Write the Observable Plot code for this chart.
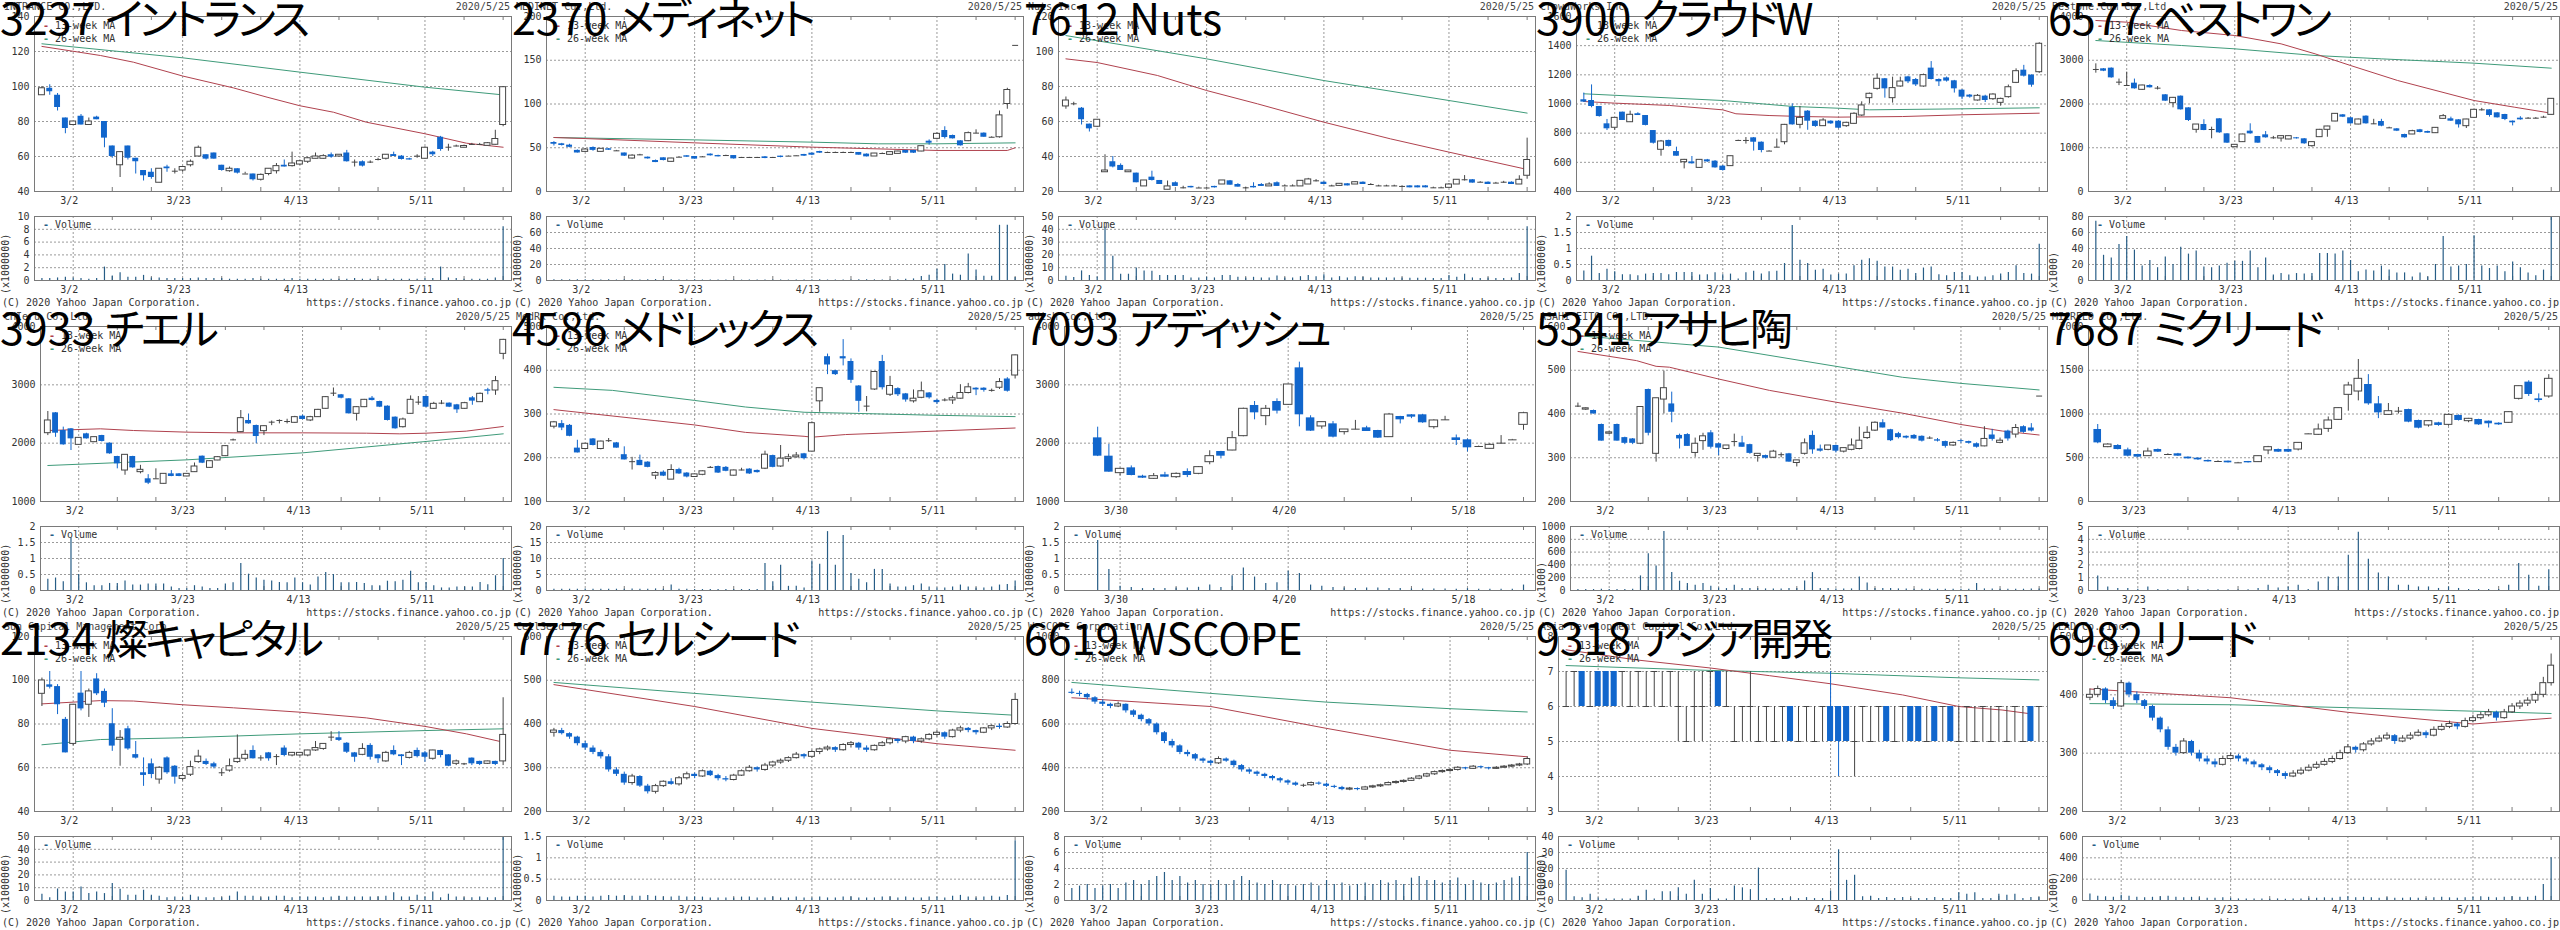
<!DOCTYPE html>
<html><head><meta charset="utf-8">
<script src="https://cdn.jsdelivr.net/npm/d3@7"></script>
<script src="https://cdn.jsdelivr.net/npm/@observablehq/plot@0.6"></script>
<style>
html,body{margin:0;padding:0;background:#fff;}
#root{position:relative;width:2560px;height:930px;overflow:hidden;background:#fff;}
.panel{position:absolute;width:512px;height:310px;overflow:hidden;}
.panel svg{position:absolute;left:0;}
.t{position:absolute;font-family:"DejaVu Sans Mono",monospace;font-size:10px;line-height:12px;color:#333;white-space:nowrap;}
.title{position:absolute;left:0;top:-5px;font-family:"Noto Sans CJK JP",sans-serif;font-size:43px;line-height:43px;color:#000;white-space:nowrap;font-feature-settings:"palt";}
</style></head>
<body><div id="root"></div>
<script>
// ---------- DATA ----------
const titles = ["3237 イントランス","2370 メディネット","7612 Nuts","3900 クラウドW","6577 ベストワン",
"3933 チエル","4586 メドレックス","7093 アディッシュ","5341 アサヒ陶","7687 ミクリード",
"2134 燦キャピタル","7776 セルシード","6619 WSCOPE","9318 アジア開発","6982 リード"];
const englishNames = ["INTRANCE CO.,LTD.","MEDINET Co.,Ltd.","Nuts Inc.","CrowdWorks,Inc.","Bestone.Com Co.,Ltd",
"CHIeru Co.,Ltd.","MedRx Co.,Ltd.","adish Co.,Ltd.","ASAHI EITO CO.,LTD.","MICREED Co.,Ltd.",
"Sun Capital Management Corp.","CellSeed Inc.","W-SCOPE Corporation","Asia Development Capital Co.,Ltd.","LEAD Co.,Inc."];
const chartDate = "2020/5/25";
const copyrightText = "(C) 2020 Yahoo Japan Corporation.";
const urlText = "https://stocks.finance.yahoo.co.jp";

const stdLabels = {4:"3/2",18:"3/23",33:"4/13",49:"5/11"};
const stdMinor = [9,14,23,28,38,43,54,59];
const adishLabels = {23:"3/30",38:"4/20",54:"5/18"};
const adishMinor = [28,33,43,49,59];
const micreedLabels = {18:"3/23",33:"4/13",49:"5/11"};
const micreedMinor = [23,28,38,43,54,59];

const ohlc_3237 = [
[95,100,95,99],[99,101,95,97],[95,96,86,88],[82,82,73,76],[78,80,78,80],[83,84,78,78],[78,82,78,80],[82.5,83,81,81],[80,80,65,70.5],[66,66,59,60],
[55,62.5,48,62.5],[66,66,58,59],[59,59,50,57],[52,52,46,49],[51,53,47,48],[45,53,45,53],[54,55,51,53],[51.6,53,50,51.6],[52,54,51,54],[55,58,54,57],
[60,66,60,65],[61,61,58,58.5],[62,62,58.5,58.5],[55,55,51.6,52],[51.6,54,51,53],[53,53,50,50.5],[50,51,50,50],[50,50,46,46.7],[46.7,50,46,49.5],[50,53,49,53],
[51.6,56,50,54.5],[55,58,54,54],[54.5,62.5,54,56],[55.4,58,55,57.3],[57,59.5,56,59],[58.7,62,58.7,60],[58.7,61,58.5,60.2],[61,62,59,59.6],[60,61,60,61],[62,63.5,56.8,57],
[56.8,58,54,56.8],[57,57.5,54,54.5],[56.8,57.5,56,56.8],[58.3,59,57.5,58.3],[58.7,61,58,61],[61.1,62.5,60,60],[60.2,60.5,58,58.3],[58.7,59,58,58],[60.2,61,59,60.2],[58.7,65.5,58.5,65],
[62.5,63,60,61],[71,71.5,63,64],[65.3,67,63,65.3],[66,66.5,65.5,66],[65,66.5,65,66],[66.9,67.5,66.5,66.9],[66.9,67.5,66.5,66.9],[66.1,68,66,67.6],[66.7,75,66.5,70],[78,100,77,99.6]];
const vol_3237 = [0.3,0.3,0.4,0.5,0.4,0.3,0.2,0.3,2.1,0.7,1.2,0.5,0.5,0.8,0.4,0.4,0.3,0.3,0.3,0.3,0.4,0.3,0.3,0.3,0.2,0.2,0.2,0.3,0.2,0.2,0.2,0.2,0.3,0.2,0.2,0.2,0.2,0.2,0.2,0.2,0.3,0.2,0.2,0.2,0.2,0.2,0.2,0.2,0.2,0.3,0.3,2.1,0.4,0.3,0.2,0.2,0.2,0.2,0.4,8.4];
const ma13_3237 = [[0,122.9],[7.5,117.7],[11.7,113.9],[18,106],[24.5,99.2],[28.8,93.9],[33,89],[37.3,85.3],[41.5,79.6],[49,73],[54.3,67.6],[59,65.3]];
const ma26_3237 = [[0,124.4],[18,116.4],[33,108.2],[49,99.6],[59,95.2]];

const ohlc_2370 = [
[56,57,52,54],[54.5,55,52,52.6],[53,54,50,50.5],[47,47.5,44,44],[45.3,49,45,48],[50.3,51,46,47],[45.3,49,45,48.8],[48.8,49,47,47.2],[46.5,47,46,46.5],[44,44,40,40.4],
[37.7,42,37,41],[41.9,42.5,41,41.9],[39.2,39.5,37,37.3],[35.4,36,33,33.1],[38.5,38.5,35,35.4],[33.9,38,33.5,37.7],[39.2,40,39,39.2],[40.8,41,39,39.2],[40,40,37,37],[39.6,40,39,39.6],
[42.7,43,40.5,40.8],[41.1,41.5,39.5,39.6],[41.1,41.5,40.5,41.1],[41.1,41.1,37,37.3],[38.9,39,38,38.9],[38.9,39,38,38.9],[38.9,39,38,38.9],[39.6,40,37.5,37.7],[38.9,39,38,38.9],[40.4,40.5,38.5,38.9],
[40.4,40.5,40,40.4],[40.8,41,40.5,40.8],[42.3,42.5,40,40.4],[43.8,44,41,41.5],[45.7,46,43.5,43.8],[44.6,45,44,44.6],[44.6,45,44,44.6],[44.6,45,44,44.6],[44.6,45,44,44.6],[44.6,44.6,41.5,41.5],
[42.7,43,39.5,39.6],[40,43.5,40,43.4],[43.4,44,43,43.4],[41.9,45,41.5,45],[43,46,43,45.7],[46.9,47,43.5,43.8],[46.9,47,43.5,43.8],[45.7,52,45.5,51.8],[57.5,59,53,55.2],[60.2,67,59,65.9],
[69.7,74,60,61.7],[64,64.5,60,60.2],[57.9,58,52,52.2],[57.5,68,57,66.7],[66.7,70.5,66,66.7],[66.7,67,62,62],[62,62.5,61.5,62],[62,92,61,87],[100,118,94,116],[167,167,167,167]];
const vol_2370 = [1,0.8,0.8,1,0.8,0.8,0.6,0.8,0.6,0.8,0.8,0.6,0.8,1.2,0.8,0.8,0.6,0.6,0.8,0.6,0.6,0.6,0.6,0.6,0.5,0.5,0.5,0.5,0.5,0.5,0.5,0.5,0.6,0.6,0.8,0.6,0.5,0.5,0.5,0.8,1,0.8,0.6,0.6,1,1.5,2,5,6.6,14,20,8,6.6,33,13,5.4,5.4,69,69,3.7];
const ma13_2370 = [[0,61.7],[4,60.5],[18,55.6],[33,50.7],[49,46.9],[58,46.9],[59,49.9]];
const ma26_2370 = [[0,61.7],[18,59],[33,56.4],[41.5,54.5],[49,54.5],[59,55.6]];

const ohlc_7612 = [
[68.6,74,67,72],[70.1,71,69,70.1],[67.6,68,58,61],[58.5,58.5,54,55.8],[57,61,56.5,61],[31,41,31,32],[37,40,33.5,34],[34.9,35.8,32,32],[31,32,30.9,32],[30.5,30.5,25,25],
[22.9,26.3,22.9,26.3],[28.2,31.6,26,26.3],[26.3,26.3,24,24],[21,26,21,22.9],[25,25.5,22.9,22.9],[22.1,23,21.5,22.1],[22.9,23,22,22.1],[22,22.5,21.8,22],[22,22.5,21.8,22],[22.9,23,22,22.1],
[24,26.3,24,26.3],[26.1,26.3,23.6,23.6],[24,24.5,22.5,22.5],[22.1,22.5,21.5,22.1],[22.9,25,22,22.1],[24,24.5,22.9,22.9],[22.9,25,22.9,24],[25,25.5,22.9,22.9],[23.2,23.8,22.8,23.2],[23.2,23.8,22.8,23.2],
[22.9,26.1,22.9,26.1],[24,27.5,24,26.9],[26.1,26.8,25.5,26.1],[25.3,25.5,24,24],[23.2,23.6,22.8,23.2],[23.2,24.4,23.2,24.4],[24.4,24.5,23.2,23.2],[24,25.5,24,25.3],[25.3,25.5,24,24],[24,24.5,23.5,24],
[23.2,23.6,22.8,23.2],[23.2,23.6,22.8,23.2],[23.2,23.6,22.8,23.2],[22.9,23.3,22.5,22.9],[23.2,23.3,22.1,22.1],[23.2,23.3,22.1,22.1],[23.2,23.3,22.1,22.1],[22.1,22.5,21.8,22.1],[22.1,22.5,21.8,22.1],[22.1,24.5,22,24],
[24,26.7,24,26.7],[26.7,29.1,26,26.7],[26.7,26.8,24.8,24.8],[25.3,25.6,25,25.3],[25.3,25.5,24,24],[24.8,25.2,24.5,24.8],[25.3,25.8,24.8,25.3],[25.3,25.5,24,24],[24,29,24,26.7],[29,50.5,27,38]];
const vol_7612 = [3.4,2.3,7.5,3.9,2.8,41.7,18.9,4.9,4.9,9.8,7.5,7.3,3.9,3.9,3.9,3.9,2,2,2.5,2,3.9,3.9,2.5,2,2.5,2,2,3.5,2,2,3,3.9,3,4.5,2,3,2,3,2.5,2,2,2,2,2,1.8,1.8,1.8,1.5,1.5,3.9,2.5,4.9,2,1.5,2,1.5,1.5,2,5.4,42];
const ma13_7612 = [[0,95.8],[4,93.7],[11.7,86.3],[18,77.7],[24.5,70.1],[33,59.6],[41.5,50.1],[49,42.5],[59,32.6]];
const ma26_7612 = [[0,109.1],[18,95.8],[33,83.4],[49,72],[59,64.8]];

const ohlc_3900 = [
[1029,1075,1010,1013],[1024,1131,974,983],[983,983,910,914],[864,894,818,830],[837,905,820,905],[944,944,887,887],[875,951,875,926],[933,940,921,921],[921,921,850,853],[818,818,725,731],
[686,750,642,743],[750,752,705,709],[674,704,642,642],[601,620,555,617],[603,640,588,590],[562,617,560,617],[617,620,600,603],[608,612,560,562],[574,578,540,544],[574,642,572,642],
[750,752,748,750],[750,770,725,750],[768,770,677,738],[738,740,665,681],[677,680,675,677],[704,760,700,704],[738,860,720,857],[978,1001,855,857],[857,983,830,905],[951,955,820,882],
[882,885,840,846],[848,900,846,887],[882,885,860,864],[882,885,830,834],[848,875,840,871],[864,940,860,933],[921,1015,915,990],[1040,1075,1001,1070],[1104,1207,1095,1173],[1173,1175,1040,1104],
[1040,1184,1006,1109],[1120,1184,1115,1154],[1186,1190,1140,1152],[1168,1175,1120,1131],[1120,1205,1115,1198],[1246,1291,1165,1168],[1168,1172,1120,1152],[1179,1185,1150,1157],[1159,1162,1075,1104],[1095,1098,1030,1047],
[1061,1065,1040,1047],[1024,1065,1020,1056],[1054,1060,1010,1024],[1033,1070,1025,1065],[1008,1040,985,1035],[1047,1130,1040,1115],[1145,1241,1140,1225],[1232,1265,1185,1191],[1198,1200,1115,1129],[1218,1420,1210,1413]];
const vol_3900 = [0.30,0.76,0.22,0.35,0.27,0.18,0.18,0.15,0.2,0.22,0.22,0.18,0.25,0.25,0.25,0.17,0.18,0.24,0.18,0.2,0.05,0.24,0.29,0.2,0.27,0.29,0.53,1.72,0.63,0.53,0.32,0.35,0.17,0.2,0.2,0.46,0.63,0.68,0.6,0.42,0.42,0.32,0.35,0.22,0.39,0.42,0.18,0.15,0.25,0.25,0.15,0.11,0.11,0.15,0.2,0.25,0.46,0.22,0.2,1.13];
const ma13_3900 = [[0,1017],[4,1006],[11.1,990],[18,960],[19.7,933],[24,921],[28.4,914],[33,910],[41.3,914],[49,926],[59,937]];
const ma26_3900 = [[0,1070],[18,1024],[27.1,983],[33,971],[37,960],[49,967],[59,974]];

const ohlc_6577 = [
[2789,2918,2705,2789],[2804,2810,2740,2750],[2819,2825,2590,2598],[2499,2570,2420,2499],[2423,2728,2400,2423],[2476,2570,2340,2347],[2324,2430,2310,2423],[2423,2440,2365,2370],[2362,2400,2320,2362],[2210,2215,2060,2065],
[2019,2150,1912,2141],[2179,2185,1860,1867],[1912,1915,1600,1623],[1410,1531,1333,1531],[1531,1640,1390,1394],[1417,1470,1204,1417],[1661,1665,1330,1341],[1318,1320,1100,1105],[1013,1067,1000,1067],[1128,1310,1120,1303],
[1379,1547,1310,1318],[1257,1260,1100,1105],[1295,1370,1220,1227],[1227,1260,1195,1227],[1211,1270,1130,1265],[1189,1270,1185,1265],[1227,1235,1200,1204],[1204,1210,1080,1090],[1036,1135,1013,1128],[1242,1420,1235,1410],
[1410,1490,1240,1486],[1600,1780,1595,1775],[1752,1760,1690,1699],[1684,1690,1540,1547],[1531,1655,1525,1646],[1722,1730,1540,1547],[1547,1650,1530,1547],[1600,1650,1480,1493],[1455,1470,1440,1455],[1432,1440,1370,1379],
[1303,1310,1220,1227],[1303,1400,1300,1379],[1410,1420,1340,1349],[1371,1380,1330,1333],[1333,1460,1330,1455],[1661,1760,1655,1722],[1661,1700,1600,1608],[1638,1645,1450,1524],[1493,1650,1440,1646],[1684,1870,1680,1867],
[1867,1900,1840,1867],[1867,1870,1700,1737],[1798,1800,1680,1684],[1760,1765,1620,1646],[1608,1612,1500,1570],[1676,1710,1630,1638],[1676,1690,1660,1676],[1676,1690,1660,1676],[1699,1720,1680,1699],[1752,2125,1745,2118]];
const vol_6577 = [74,31.5,28,45,55,38,18,25,16,29.5,20,41.5,33,37,17,16,18,21.5,24,24,37,16,28,7,8.7,7,8.7,8,8.7,33.6,33.6,33,37,25,11,13,12,18,13,9.5,9.5,4.5,9.5,4.5,20,55,17,18,20,56,18,15,18,11,23,16,9.5,6,13,80];
const ma13_6577 = [[0,3909],[4,3870],[11.1,3680],[18,3566],[24,3375],[28.4,3147],[33,2880],[39.1,2537],[49,2080],[54.2,1928],[59,1790]];
const ma26_6577 = [[0,3451],[11.1,3337],[18,3261],[28.4,3109],[37,3032],[49,2933],[59,2819]];

const ohlc_3933 = [
[2171,2543,2130,2389],[2520,2525,2100,2171],[2217,2275,1965,1971],[2246,2250,1874,2074],[1971,2095,1965,2091],[2160,2170,2070,2074],[2017,2105,2010,2103],[2131,2135,2020,2029],[2000,2005,1810,1817],[1771,1775,1560,1646],
[1531,1800,1450,1800],[1771,1775,1570,1577],[1503,1620,1474,1543],[1389,1460,1290,1314],[1389,1560,1385,1389],[1303,1474,1300,1474],[1474,1530,1425,1429],[1474,1480,1425,1429],[1429,1480,1425,1474],[1503,1660,1500,1600],
[1777,1780,1650,1657],[1577,1700,1570,1691],[1703,1770,1700,1760],[1777,1960,1770,1949],[2057,2070,2040,2057],[2189,2560,2180,2429],[2389,2500,2325,2331],[2303,2310,1990,2114],[2206,2300,2130,2291],[2360,2380,2300,2360],
[2389,2400,2330,2389],[2371,2410,2330,2371],[2349,2460,2340,2446],[2463,2480,2400,2406],[2389,2460,2370,2446],[2446,2580,2440,2571],[2589,2800,2580,2789],[2857,2946,2800,2857],[2829,2835,2760,2771],[2760,2765,2500,2503],
[2503,2625,2380,2617],[2617,2750,2610,2743],[2771,2800,2725,2731],[2714,2720,2610,2617],[2634,2640,2380,2389],[2446,2450,2240,2246],[2274,2430,2260,2406],[2503,2810,2500,2743],[2703,2800,2650,2703],[2800,2805,2610,2617],
[2589,2700,2580,2674],[2686,2730,2660,2686],[2686,2690,2610,2617],[2657,2665,2510,2571],[2589,2700,2580,2686],[2777,2800,2650,2720],[2703,2860,2700,2846],[2914,2940,2830,2891],[2903,3143,2820,3063],[3531,3780,3430,3771]];
const vol_3933 = [0.35,0.39,0.27,1.64,0.5,0.24,0.15,0.15,0.22,0.22,0.3,0.17,0.17,0.2,0.2,0.2,0.11,0.06,0.06,0.15,0.11,0.06,0.06,0.2,0.24,0.84,0.51,0.39,0.32,0.3,0.25,0.24,0.39,0.24,0.17,0.42,0.56,0.5,0.24,0.24,0.25,0.22,0.15,0.15,0.29,0.27,0.32,0.6,0.24,0.25,0.15,0.08,0.08,0.11,0.11,0.11,0.25,0.18,0.46,1.0];
const ma13_3933 = [[0,2217],[6.8,2246],[11.1,2217],[18,2189],[24,2177],[33,2177],[41.3,2171],[45.6,2160],[49,2171],[54.2,2206],[59,2286]];
const ma26_3933 = [[0,1617],[18,1714],[33,1834],[49,2029],[59,2160]];

const ohlc_4586 = [
[271,283,266,281],[278,285,262,268],[274,276,248,249],[222,240,211,211],[220,233,218,232],[243,244,227,228],[220,238,218,237],[239,244,235,239],[234,235,222,222],[207,225,195,195],
[191,201,172,191],[194,206,182,182],[190,191,177,178],[159,168,150,165],[167,170,157,158],[150,184,150,172],[173,176,162,163],[165,166,154,156],[156,163,155,162],[161,170,159,169],
[178,180,176,178],[180,181,164,165],[178,180,168,169],[159,172,158,171],[172,176,170,172],[174,175,162,163],[171,172,165,166],[175,215,173,207],[205,206,177,178],[180,228,178,198],
[197,208,190,201],[201,212,199,205],[209,210,195,198],[214,282,214,279],[329,359,304,359],[431,437,390,412],[399,400,388,390],[431,470,410,426],[420,426,370,377],[364,365,304,329],
[318,340,305,318],[356,397,354,396],[420,434,355,360],[344,386,340,364],[358,360,340,344],[346,347,327,332],[329,355,325,335],[337,373,335,352],[348,349,334,337],[331,333,322,326],
[332,335,328,332],[331,341,322,336],[335,367,334,348],[348,370,346,361],[359,360,342,355],[359,360,350,354],[354,357,350,354],[360,381,356,373],[380,383,350,352],[388,435,380,434]];
const vol_4586 = [0.4,0.4,0.4,0.4,0.5,0.4,0.4,0.4,0.4,0.4,0.5,0.4,0.4,0.5,0.4,1.7,0.4,0.4,0.3,0.3,0.3,0.3,0.3,0.3,0.3,0.3,0.3,8.4,2.7,7.9,1.3,1.3,0.8,9.2,8.2,18.4,7.9,17.2,5.3,3.5,2.4,6.6,6.6,2,1.1,1.1,1.5,2,1.1,0.8,0.8,1.1,1.7,1.1,0.8,0.8,1.1,1.7,1.9,3];
const ma13_4586 = [[0,310],[18,275],[24.5,258],[32,249],[33,247],[37.3,253],[49,261],[59,268]];
const ma26_4586 = [[0,361],[7.5,354],[18,331],[24.5,316],[32,304],[37.3,302],[49,297],[59,294]];

const ohlc_7093 = [
[2091,2274,1770,1777],[1777,1977,1500,1503],[1486,1570,1440,1560],[1577,1610,1440,1446],[1434,1450,1395,1400],[1389,1480,1380,1434],[1457,1500,1410,1417],[1417,1490,1395,1474],[1514,1560,1410,1446],[1474,1600,1460,1589],
[1674,1870,1630,1777],[1857,1860,1730,1777],[1874,2200,1870,2086],[2120,2600,2110,2589],[2646,2714,2400,2520],[2463,2646,2300,2589],[2714,2760,2500,2549],[2657,3006,2650,3006],[3291,3389,2280,2486],[2434,2470,2200,2206],
[2286,2360,2240,2360],[2331,2370,2090,2103],[2189,2234,2140,2234],[2240,2390,2230,2240],[2263,2290,2200,2200],[2217,2220,2080,2086],[2103,2510,2100,2491],[2457,2460,2330,2400],[2486,2490,2420,2446],[2486,2495,2340,2349],
[2274,2400,2240,2389],[2400,2460,2390,2400],[2091,2140,1960,2046],[2057,2070,1850,1920],[1943,1950,1930,1943],[1903,1990,1900,1971],[2000,2130,1995,2000],[2057,2065,2050,2057],[2314,2530,2220,2514]];
const vol_7093 = [1.56,0.66,0.13,0.09,0.06,0.06,0.06,0.08,0.08,0.1,0.17,0.09,0.46,0.7,0.42,0.22,0.24,0.6,0.53,0.17,0.13,0.09,0.08,0.06,0.08,0.08,0.06,0.06,0.05,0.05,0.05,0.05,0.04,0.06,0.04,0.04,0.04,0.04,0.17];

const ohlc_5341 = [
[418,425,415,418],[410,414,408,413],[408,409,400,400],[376,377,338,338],[355,359,353,358],[376,377,338,338],[346,347,330,333],[343,344,330,333],[332,416,330,416],[456,457,350,356],
[309,436,290,436],[433,498,400,459],[423,450,380,404],[351,354,320,343],[353,355,326,326],[311,345,301,332],[338,356,317,349],[357,362,320,324],[332,333,305,322],[320,328,318,328],
[337,354,325,337],[334,349,324,324],[330,331,308,310],[304,309,290,309],[305,306,297,299],[300,317,298,314],[307,311,300,307],[309,310,290,290],[288,294,279,294],[309,343,306,333],
[351,361,308,318],[320,329,313,315],[318,328,316,328],[328,329,311,315],[314,322,311,322],[318,343,316,328],[320,370,318,339],[345,371,342,357],[362,382,360,380],[380,387,368,368],
[364,365,337,339],[355,358,343,346],[349,350,343,345],[351,353,342,343],[349,350,336,338],[345,348,342,345],[341,344,336,338],[337,338,322,326],[328,336,326,334],[339,341,333,337],
[337,338,331,333],[332,334,322,324],[326,371,325,343],[352,365,338,342],[334,345,332,339],[361,363,338,343],[353,376,345,368],[371,373,356,358],[368,378,359,361],[441,441,441,441]];
const vol_5341 = [15,15,15,20,15,15,15,20,228,575,383,922,280,145,109,83,109,67,40,30,83,30,30,30,25,25,25,30,30,150,280,30,30,25,25,25,212,119,30,30,30,25,25,20,20,20,20,20,20,20,20,109,25,25,20,20,20,20,25,25];
const ma13_5341 = [[0,543],[7.5,522],[10,509],[11.7,507],[18,480],[24.5,454],[33,427],[41.5,402],[49,376],[54.3,361],[59,352]];
const ma26_5341 = [[0,579],[11.7,562],[18,553],[33,509],[41.5,484],[49,470],[59,455]];

const ohlc_7687 = [
[823,880,660,670],[621,660,615,651],[640,650,590,594],[590,610,510,518],[537,540,500,507],[518,610,515,571],[594,600,560,564],[537,545,530,537],[545,550,515,518],[507,510,485,488],
[495,500,470,476],[469,475,450,453],[457,465,450,457],[461,462,440,442],[442,447,437,442],[457,458,440,442],[450,520,448,518],[583,630,535,621],[594,600,560,564],[594,600,560,564],
[594,672,578,670],[773,776,770,773],[762,885,755,823],[830,966,790,926],[933,1070,930,1067],[1219,1362,1032,1326],[1257,1623,1150,1402],[1337,1450,1100,1116],[1116,1200,947,1013],[990,1120,985,1032],
[1032,1075,1000,1032],[1051,1055,900,907],[926,930,830,838],[869,920,850,918],[899,905,860,869],[876,1000,860,990],[983,990,920,926],[918,950,900,945],[937,940,870,876],[918,920,840,888],
[895,900,870,876],[899,1025,895,1021],[1173,1320,1160,1318],[1364,1380,1200,1223],[1173,1230,1130,1154],[1200,1450,1180,1402]];
const vol_7687 = [1.14,0.28,0.16,0.16,0.1,0.28,0.08,0.05,0.05,0.05,0.05,0.05,0.05,0.05,0.05,0.05,0.16,0.41,0.2,0.28,0.41,0.08,0.67,1.06,1.06,2.75,4.56,2.44,1.37,1.06,0.41,0.41,0.28,0.28,0.16,0.28,0.16,0.08,0.08,0.08,0.08,0.41,2.1,1.19,0.34,1.63];

const ohlc_2134 = [
[93.8,101,88,99.9],[97.9,104,96,96.8],[97.1,98,84.3,88.8],[82.1,83,66.8,66.8],[70.9,89,70,88.8],[94.1,104,86,86.9],[88.8,96,83,94.9],[100.6,103,93,93.8],[94.9,96,87.5,89.5],[80.1,87,67.5,69.9],
[72.8,77,60.7,73.7],[77.8,79,68,68.6],[66,72,64,64.4],[57.7,64.5,51.5,56.5],[61.8,64,55,56.9],[54.6,60.5,52.5,60],[64.5,65,57,57.7],[60.7,61,52.5,55.7],[54.9,57,54,56.2],[56.8,63,56,60.3],
[62.6,68,62,65.1],[62.9,64,61,61.5],[61.8,62.5,59.5,60.3],[57.7,59.5,56,57.7],[58.7,64,58,60.7],[62.6,75,62,64.1],[64.1,68,63,65.9],[67.9,70,64,64.1],[64.5,65.5,63,64.5],[66.8,67,63,64.1],
[65.1,66,61,65.1],[69,70,65,65.6],[65.6,67,65,66.8],[65.6,67,65,66.8],[65.6,68,65,67.9],[67.9,72,67.5,69],[68.6,71,68,70.9],[74,76.5,72,74],[73.7,76.5,72,72.5],[71.2,71.5,66.5,67.1],
[66.8,67,62.5,64.8],[65.9,71,65.5,68.6],[70.2,71,63.5,64.8],[65.9,66,62,64.1],[62.9,67.5,62.5,66.8],[67.9,70,65.5,65.9],[65.9,66,61,65.1],[64.5,67.5,64,66.8],[67.9,69,64.5,65.1],[66.8,67.5,62.5,64.8],
[64.1,68,63.5,67.9],[67.9,68,64.5,65.6],[65.9,66,60.5,60.7],[61.8,63.5,61,62.9],[61.8,62,61,61.8],[64.4,64.5,61,61.8],[62.9,63,61,61.5],[61.8,63,61.5,62.9],[62.9,63,61,61.5],[62.9,92,61,75]];
const vol_2134 = [4.9,2.1,9,6.7,6.7,10.6,5.4,6.7,5.4,13.2,8.8,4.1,4.1,8,4.1,3.4,2.1,2.8,2.1,4.1,2.8,2.1,2.1,2.1,3.4,6.7,3.4,3.4,2.1,2.8,3.4,3.4,2.1,2.8,2.8,2.8,2.1,2.8,3.4,2.8,2.8,2.8,2.8,2.8,3.4,6,2.8,2.8,4.1,2.8,6.7,2.1,4.9,2.8,2.1,2.1,2.8,2.1,2.1,50];
const ma13_2134 = [[0,89.2],[4,90],[7.5,90.7],[11.7,90.5],[18,88.8],[24.5,87.4],[33,85.4],[41.5,82.8],[49,78.9],[54.3,75.5],[59,71.7]];
const ma26_2134 = [[0,70.5],[7.5,72.9],[18,73.7],[33,75.5],[49,77],[59,77.8]];

const ohlc_7776 = [
[380,390,370,385],[385,390,375,378],[378,380,365,370],[370,372,350,355],[355,360,340,345],[345,350,330,335],[335,340,320,325],[325,330,290,295],[295,300,280,285],[285,290,260,265],
[265,285,260,280],[280,282,255,258],[258,262,240,245],[245,262,240,258],[258,270,255,268],[268,275,260,262],[262,280,258,276],[276,290,272,285],[285,288,275,280],[280,295,278,292],
[292,294,280,282],[282,285,270,275],[275,280,268,272],[272,285,270,282],[282,295,280,292],[292,305,290,300],[300,302,290,295],[295,310,292,305],[305,315,300,312],[312,320,308,316],
[316,325,312,322],[322,335,320,330],[330,332,320,325],[325,340,322,336],[336,345,330,342],[342,350,338,346],[346,348,335,340],[340,355,338,352],[352,360,345,356],[356,358,340,345],
[345,350,335,340],[340,352,338,350],[350,360,348,356],[356,368,352,365],[365,366,355,360],[360,372,355,370],[370,372,355,360],[360,368,356,365],[365,378,362,375],[375,385,370,380],
[380,382,365,370],[370,388,368,385],[385,395,380,390],[390,392,380,385],[385,386,375,380],[380,392,378,390],[390,398,385,395],[395,400,388,392],[392,405,390,400],[400,470,398,455]];
const vol_7776 = [0.1,0.08,0.08,0.1,0.1,0.08,0.1,0.12,0.1,0.12,0.1,0.1,0.12,0.1,0.08,0.08,0.1,0.08,0.08,0.08,0.06,0.06,0.06,0.06,0.08,0.08,0.06,0.06,0.08,0.06,0.06,0.08,0.06,0.06,0.08,0.06,0.06,0.08,0.08,0.06,0.06,0.06,0.08,0.08,0.06,0.08,0.06,0.06,0.08,0.08,0.06,0.1,0.12,0.08,0.06,0.08,0.1,0.08,0.12,1.4];
const ma13_7776 = [[0,490],[18,440],[33,390],[49,355],[59,340]];
const ma26_7776 = [[0,495],[18,470],[33,450],[49,430],[59,420]];

const ohlc_6619 = [
[745,760,735,740],[740,750,725,735],[735,740,710,720],[720,725,690,700],[700,710,680,690],[690,695,670,680],[680,700,675,690],[690,692,650,660],[660,665,630,640],[640,645,610,620],
[620,625,590,600],[600,605,550,560],[560,565,510,520],[520,530,490,500],[500,505,460,470],[470,480,450,460],[460,465,430,440],[440,445,420,430],[430,435,410,420],[420,450,415,440],
[440,445,425,430],[430,435,400,410],[410,415,380,390],[390,395,370,380],[380,385,360,370],[370,375,350,360],[360,365,340,350],[350,355,330,340],[340,345,320,330],[330,335,315,320],
[320,325,310,320],[320,335,315,330],[330,335,320,325],[325,330,310,315],[315,320,305,310],[310,315,295,300],[300,310,295,305],[305,308,295,300],[300,315,298,310],[310,320,305,315],
[315,325,310,320],[320,335,318,330],[330,340,325,335],[335,345,330,340],[340,355,338,350],[350,365,345,360],[360,375,355,370],[370,385,365,380],[380,390,375,385],[385,395,380,390],
[390,405,385,400],[400,402,390,395],[395,410,392,405],[405,408,395,400],[400,402,390,395],[395,405,392,400],[400,410,398,405],[405,415,400,410],[410,420,405,415],[415,450,410,440]];
const vol_6619 = [1.5,1.8,2,1.5,1.8,2,1.5,2.2,2.5,2,2.5,3,3.5,2.5,3,2.2,2.5,2,2,2.5,2,2.5,3,2.5,2.2,2,2.5,2,2,1.8,2,2.2,1.8,2.5,2,2.2,1.8,2,2.2,2,2.5,2.2,2.5,2,2.8,3,2.5,2.5,2.2,2.5,2.8,2,2.5,2.2,2,2.2,2.5,2.8,3,6];
const ma13_6619 = [[0,720],[18,680],[33,580],[49,480],[59,450]];
const ma26_6619 = [[0,790],[18,740],[33,700],[49,670],[59,655]];

const ohlc_9318 = [
[6,7,6,6],[7,7,6,7],[7,7,6,6],[6,7,6,6],[7,7,6,6],[7,7,6,6],[7,7,6,6],[7,7,6,7],[6,7,6,6],[7,7,6,7],
[6,7,6,6],[7,7,6,7],[6,7,6,6],[7,7,6,7],[6,7,5,6],[5,6,5,5],[6,7,5,6],[6,7,5,6],[7,7,6,7],[7,7,6,6],
[6,7,6,6],[5,6,5,5],[6,6,5,6],[6,7,5,6],[5,6,5,5],[6,6,5,6],[5,6,5,5],[6,6,5,6],[6,6,5,5],[5,6,5,5],
[6,6,5,6],[5,6,5,5],[6,6,5,6],[6,7,5,5],[6,6,4,5],[6,6,5,5],[5,6,4,5],[6,6,5,6],[5,6,5,5],[6,6,5,6],
[6,6,5,5],[5,6,5,5],[6,6,5,6],[6,6,5,5],[6,6,5,5],[5,6,5,5],[6,6,5,5],[6,6,5,6],[6,6,5,5],[5,6,5,5],
[6,6,5,6],[5,6,5,5],[6,6,5,6],[5,6,5,5],[6,6,5,6],[5,6,5,5],[6,6,5,6],[5,6,5,5],[6,6,5,5],[6,6,5,6]];
const vol_9318 = [18.9,2.3,1.7,3.9,1.5,1,1,1,1,2.7,6.4,1,5.4,5.4,7.9,3.9,12.6,3.9,7.5,1,1,9.1,7.9,6.8,20.3,1.2,1.2,1.2,1.8,1.2,1.8,1.2,1.2,6,31.7,12.6,15.8,2.3,2.7,1.2,1.8,1.2,1.8,1.2,1.2,1.2,1.8,1.2,1.2,4.8,3.9,4.8,1.2,1.2,3.9,3.3,3.9,1.2,1.8,1.8];
const ma13_9318 = [[0,7.62],[8.8,7.33],[18,7.1],[25.4,6.88],[33,6.65],[42,6.33],[49,6.0],[54.4,5.9],[58,5.79]];
const ma26_9318 = [[0,7.17],[18,7.03],[33,6.95],[49,6.82],[59,6.76]];

const ohlc_6982 = [
[395,410,390,400],[400,415,395,410],[410,412,385,390],[390,395,375,380],[380,425,378,420],[420,422,395,400],[400,405,385,390],[390,392,375,380],[380,382,355,360],[360,362,335,340],
[340,345,305,310],[310,315,295,300],[300,325,298,320],[320,322,295,300],[300,305,285,290],[290,295,280,285],[285,290,275,280],[280,295,278,290],[290,300,288,295],[295,298,285,290],
[290,292,280,285],[285,288,275,280],[280,282,270,275],[275,278,265,270],[270,272,260,265],[265,268,255,260],[260,270,258,265],[265,275,262,270],[270,280,268,275],[275,285,272,280],
[280,290,278,285],[285,295,282,290],[290,305,288,300],[300,315,298,310],[310,312,300,305],[305,318,302,315],[315,325,312,320],[320,330,318,325],[325,335,322,330],[330,332,315,320],
[320,330,318,325],[325,335,322,330],[330,340,328,335],[335,338,325,330],[330,345,328,340],[340,350,338,345],[345,355,342,350],[350,352,340,345],[345,360,343,355],[355,365,352,360],
[360,370,357,365],[365,375,362,370],[370,372,355,360],[360,375,358,370],[370,385,368,380],[380,390,375,385],[385,395,380,390],[390,405,385,400],[400,430,395,420],[420,470,415,450]];
const vol_6982 = [60,40,35,30,50,40,30,25,30,35,40,30,25,30,25,20,20,25,20,15,15,15,15,12,15,12,15,15,20,20,25,20,30,35,25,30,25,20,25,20,20,25,20,20,25,30,25,20,25,30,35,30,25,30,35,30,30,40,150,400];
const ma13_6982 = [[0,410],[18,395],[33,370],[49,350],[59,360]];
const ma26_6982 = [[0,385],[18,383],[33,378],[49,372],[59,368]];

const priceTicks = [
[40,60,80,100,120,140],[0,50,100,150,200],[20,40,60,80,100,120],[400,600,800,1000,1200,1400,1600],[0,1000,2000,3000,4000],
[1000,2000,3000,4000],[100,200,300,400,500],[1000,2000,3000,4000],[200,300,400,500,600],[0,500,1000,1500,2000],
[40,60,80,100,120],[200,300,400,500,600],[200,400,600,800,1000],[3,4,5,6,7,8],[200,300,400,500]];
const volTicks = [
[0,2,4,6,8,10],[0,20,40,60,80],[0,10,20,30,40,50],[0,0.5,1,1.5,2],[0,20,40,60,80],
[0,0.5,1,1.5,2],[0,5,10,15,20],[0,0.5,1,1.5,2],[0,200,400,600,800,1000],[0,1,2,3,4,5],
[0,10,20,30,40,50],[0,0.5,1,1.5],[0,2,4,6,8],[0,10,20,30,40],[0,200,400,600]];
const volUnits = ["(x1000000)","(x1000000)","(x1000000)","(x1000000)","(x1000)",
"(x1000000)","(x1000000)","(x1000000)","(x1000)","(x1000000)",
"(x1000000)","(x1000000)","(x1000000)","(x1000000)","(x1000)"];

// ---------- RENDER ----------
const BLUE = "#1166cc", UPC = "#454545", RED = "#b0424e", GREEN = "#3f9b7a", VOLC = "#275d86";
const GRID = "#9a9a9a", FRAME = "#7a7a7a";
const fmt = v => String(+(+v).toFixed(2));

const panels = [
 {ohlc:ohlc_3237, vol:vol_3237, ma13:ma13_3237, ma26:ma26_3237, start:0},
 {ohlc:ohlc_2370, vol:vol_2370, ma13:ma13_2370, ma26:ma26_2370, start:0},
 {ohlc:ohlc_7612, vol:vol_7612, ma13:ma13_7612, ma26:ma26_7612, start:0},
 {ohlc:ohlc_3900, vol:vol_3900, ma13:ma13_3900, ma26:ma26_3900, start:0},
 {ohlc:ohlc_6577, vol:vol_6577, ma13:ma13_6577, ma26:ma26_6577, start:0},
 {ohlc:ohlc_3933, vol:vol_3933, ma13:ma13_3933, ma26:ma26_3933, start:0},
 {ohlc:ohlc_4586, vol:vol_4586, ma13:ma13_4586, ma26:ma26_4586, start:0},
 {ohlc:ohlc_7093, vol:vol_7093, ma13:null, ma26:null, start:21, xdom:[18.04,60.07], labels:adishLabels, minor:adishMinor},
 {ohlc:ohlc_5341, vol:vol_5341, ma13:ma13_5341, ma26:ma26_5341, start:0},
 {ohlc:ohlc_7687, vol:vol_7687, ma13:null, ma26:null, start:14, xdom:[13.08,60.07], labels:micreedLabels, minor:micreedMinor},
 {ohlc:ohlc_2134, vol:vol_2134, ma13:ma13_2134, ma26:ma26_2134, start:0},
 {ohlc:ohlc_7776, vol:vol_7776, ma13:ma13_7776, ma26:ma26_7776, start:0},
 {ohlc:ohlc_6619, vol:vol_6619, ma13:ma13_6619, ma26:ma26_6619, start:0},
 {ohlc:ohlc_9318, vol:vol_9318, ma13:ma13_9318, ma26:ma26_9318, start:0},
 {ohlc:ohlc_6982, vol:vol_6982, ma13:ma13_6982, ma26:ma26_6982, start:0}
];

const root = document.getElementById("root");
function txt(parent, s, x, y, opt = {}) {
  const e = document.createElement("div");
  e.className = "t";
  e.textContent = s;
  e.style.top = (y - 6) + "px";
  if (opt.right) e.style.right = (512 - x) + "px"; else e.style.left = x + "px";
  if (opt.color) e.style.color = opt.color;
  parent.appendChild(e);
  return e;
}
function legend(parent, x, y, color, label) {
  const e = txt(parent, "", x, y);
  const d = document.createElement("span"); d.textContent = "-"; d.style.color = color; d.style.fontWeight = "bold";
  const s = document.createElement("span"); s.textContent = " " + label;
  e.appendChild(d); e.appendChild(s);
}

panels.forEach((p, k) => {
  const col = k % 5, row = Math.floor(k / 5);
  const div = document.createElement("div");
  div.className = "panel";
  div.style.left = (col * 512) + "px";
  div.style.top = (row * 310) + "px";
  root.appendChild(div);

  const yt = priceTicks[k], y0 = yt[0], y1 = yt[yt.length - 1];
  const vt = volTicks[k], vmax = vt[vt.length - 1];
  const L = 16 + 6 * d3.max(yt, t => fmt(t).length);
  const xdom = p.xdom || [-0.95, 60.07];
  const labels = p.labels || stdLabels;
  const minor = p.minor || stdMinor;
  const labIdx = Object.keys(labels).map(Number);
  const hw = 0.38;

  const rows = p.ohlc.map((d, j) => ({i: p.start + j, o: d[0], h: Math.max(d[0], d[1], d[3]), l: Math.min(d[0], d[2], d[3]), c: d[3]}));
  const up = rows.filter(d => d.c > d.o), dn = rows.filter(d => d.c < d.o), dj = rows.filter(d => d.c === d.o);
  const vrows = p.vol.map((v, j) => ({i: p.start + j, v}));

  const tkP = (y1 - y0) * 4 / 175, tkV = vmax * 4 / 64;
  const style = {fontFamily: '"DejaVu Sans Mono", monospace', fontSize: "10px", color: "#333", background: "transparent", overflow: "visible"};

  const priceMarks = [
    Plot.ruleY(yt, {stroke: GRID, strokeDasharray: "2,2"}),
    Plot.ruleX(labIdx, {stroke: GRID, strokeDasharray: "2,2"}),
    Plot.ruleX(minor, {y1: y0, y2: y0 + tkP, stroke: FRAME}),
    Plot.ruleX(minor, {y1: y1, y2: y1 - tkP, stroke: FRAME}),
    p.ma26 ? Plot.line(p.ma26, {x: d => d[0], y: d => d[1], stroke: GREEN, strokeWidth: 1}) : null,
    p.ma13 ? Plot.line(p.ma13, {x: d => d[0], y: d => d[1], stroke: RED, strokeWidth: 1}) : null,
    Plot.ruleX(up, {x: "i", y1: "l", y2: "h", stroke: UPC}),
    Plot.ruleX(dn, {x: "i", y1: "l", y2: "h", stroke: BLUE}),
    Plot.ruleX(dj, {x: "i", y1: "l", y2: "h", stroke: UPC}),
    Plot.rect(up, {x1: d => d.i - hw, x2: d => d.i + hw, y1: "o", y2: "c", fill: "white", stroke: UPC, strokeWidth: 1}),
    Plot.rect(dn, {x1: d => d.i - hw, x2: d => d.i + hw, y1: "o", y2: "c", fill: BLUE}),
    Plot.link(dj, {x1: d => d.i - hw, x2: d => d.i + hw, y1: "o", y2: "o", stroke: UPC}),
    Plot.frame({stroke: FRAME}),
    Plot.axisY({ticks: yt, tickSize: 0, tickPadding: 5, tickFormat: fmt, fill: "#333", label: null}),
    Plot.axisX({ticks: labIdx, tickSize: 0, tickPadding: 5, tickFormat: i => labels[i], dx: -4, fill: "#333", label: null})
  ].filter(Boolean);

  const price = Plot.plot({
    width: 512, height: 210, marginLeft: L, marginRight: 1, marginTop: 16, marginBottom: 19,
    x: {domain: xdom, label: null}, y: {domain: [y0, y1], label: null}, style, marks: priceMarks
  });
  price.style.top = "0px";
  div.appendChild(price);

  const volume = Plot.plot({
    width: 512, height: 100, marginLeft: L, marginRight: 1, marginTop: 10, marginBottom: 26,
    x: {domain: xdom, label: null}, y: {domain: [0, vmax], label: null}, style,
    marks: [
      Plot.ruleY(vt, {stroke: GRID, strokeDasharray: "2,2"}),
      Plot.ruleX(labIdx, {stroke: GRID, strokeDasharray: "2,2"}),
      Plot.ruleX(minor, {y1: 0, y2: tkV, stroke: FRAME}),
      Plot.ruleX(minor, {y1: vmax, y2: vmax - tkV, stroke: FRAME}),
      Plot.ruleX(vrows, {x: "i", y1: 0, y2: d => Math.min(d.v, vmax), stroke: VOLC, strokeWidth: 1.2}),
      Plot.frame({stroke: FRAME}),
      Plot.axisY({ticks: vt, tickSize: 0, tickPadding: 5, tickFormat: fmt, fill: "#333", label: null}),
      Plot.axisX({ticks: labIdx, tickSize: 0, tickPadding: 5, tickFormat: i => labels[i], dx: -4, fill: "#333", label: null})
    ]
  });
  volume.style.top = "206px";
  div.appendChild(volume);

  // texts
  txt(div, englishNames[k], 4, 7, {color: "#444"});
  txt(div, chartDate, 510, 7, {right: true, color: "#444"});
  txt(div, copyrightText, 2, 303, {color: "#333"});
  txt(div, urlText, 511, 303, {right: true, color: "#333"});
  if (p.ma13) {
    legend(div, L + 9, 26, RED, "13-week MA");
    legend(div, L + 9, 39, GREEN, "26-week MA");
  }
  legend(div, L + 9, 225, VOLC, "Volume");
  const u = txt(div, volUnits[k], 0, 6, {});
  u.style.top = "294px";
  u.style.left = "0px";
  u.style.transformOrigin = "0 0";
  u.style.transform = "rotate(-90deg)";

  const t = document.createElement("div");
  t.className = "title";
  const sp = titles[k].indexOf(" ");
  const codePart = titles[k].slice(0, sp + 1), namePart = titles[k].slice(sp + 1);
  const a = document.createElement("span"); a.textContent = codePart;
  const b = document.createElement("span"); b.textContent = namePart;
  if (/[^\x00-\x7F]/.test(namePart)) b.style.letterSpacing = "-3.5px";
  t.appendChild(a); t.appendChild(b);
  div.appendChild(t);
});
</script>
</body></html>
